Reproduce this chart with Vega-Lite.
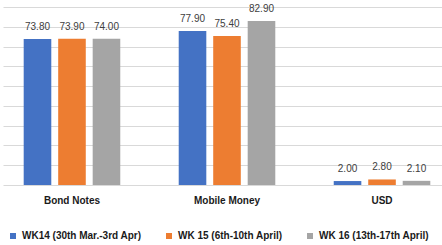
{
  "$schema": "https://vega.github.io/schema/vega-lite/v6.json",
  "autosize": {"type": "none"},
  "width": 448,
  "height": 178,
  "padding": {"left": 3, "top": 7, "right": 0, "bottom": 60},
  "background": "white",
  "config": {
    "view": {"stroke": null},
    "font": "Liberation Sans"
  },
  "data": {
    "values": [
      {"category": "Bond Notes", "week": "WK14 (30th Mar.-3rd Apr)", "value": 73.8},
      {"category": "Bond Notes", "week": "WK 15 (6th-10th April)", "value": 73.9},
      {"category": "Bond Notes", "week": "WK 16 (13th-17th April)", "value": 74.0},
      {"category": "Mobile Money", "week": "WK14 (30th Mar.-3rd Apr)", "value": 77.9},
      {"category": "Mobile Money", "week": "WK 15 (6th-10th April)", "value": 75.4},
      {"category": "Mobile Money", "week": "WK 16 (13th-17th April)", "value": 82.9},
      {"category": "USD", "week": "WK14 (30th Mar.-3rd Apr)", "value": 2.0},
      {"category": "USD", "week": "WK 15 (6th-10th April)", "value": 2.8},
      {"category": "USD", "week": "WK 16 (13th-17th April)", "value": 2.1}
    ]
  },
  "encoding": {
    "x": {
      "field": "category",
      "type": "nominal",
      "sort": ["Bond Notes", "Mobile Money", "USD"],
      "scale": {"paddingInner": 0.11, "paddingOuter": 0},
      "axis": {
        "title": null,
        "labelAngle": 0,
        "labelFont": "Liberation Sans",
        "labelFontWeight": "bold",
        "labelFontSize": 10,
        "labelColor": "#1a1a1a",
        "labelPadding": 10,
        "ticks": false,
        "domain": false
      }
    },
    "xOffset": {
      "field": "week",
      "type": "nominal",
      "sort": ["WK14 (30th Mar.-3rd Apr)", "WK 15 (6th-10th April)", "WK 16 (13th-17th April)"],
      "scale": {"paddingInner": 0.2, "paddingOuter": 0.6}
    },
    "y": {
      "field": "value",
      "type": "quantitative",
      "scale": {"domain": [0, 90], "nice": false},
      "axis": {
        "title": null,
        "values": [0, 10, 20, 30, 40, 50, 60, 70, 80, 90],
        "labels": false,
        "ticks": false,
        "domain": false,
        "gridColor": "#d9d9d9",
        "gridWidth": 1
      }
    }
  },
  "layer": [
    {
      "mark": {"type": "bar"},
      "encoding": {
        "color": {
          "field": "week",
          "type": "nominal",
          "sort": ["WK14 (30th Mar.-3rd Apr)", "WK 15 (6th-10th April)", "WK 16 (13th-17th April)"],
          "scale": {"range": ["#4472C4", "#ED7D31", "#A5A5A5"]},
          "legend": {
            "title": null,
            "orient": "none",
            "direction": "horizontal",
            "legendX": 5,
            "legendY": 224,
            "symbolType": "square",
            "symbolSize": 36,
            "symbolStrokeWidth": 0,
            "labelFont": "Liberation Sans",
            "labelFontWeight": "bold",
            "labelFontSize": 10,
            "labelColor": "#1a1a1a",
            "labelOffset": 4,
            "columnPadding": 22,
            "labelLimit": 300
          }
        }
      }
    },
    {
      "mark": {"type": "text", "baseline": "bottom", "dy": -7, "fontSize": 10, "color": "#404040", "font": "Liberation Sans"},
      "encoding": {
        "text": {"field": "value", "type": "quantitative", "format": ".2f"}
      }
    }
  ]
}
